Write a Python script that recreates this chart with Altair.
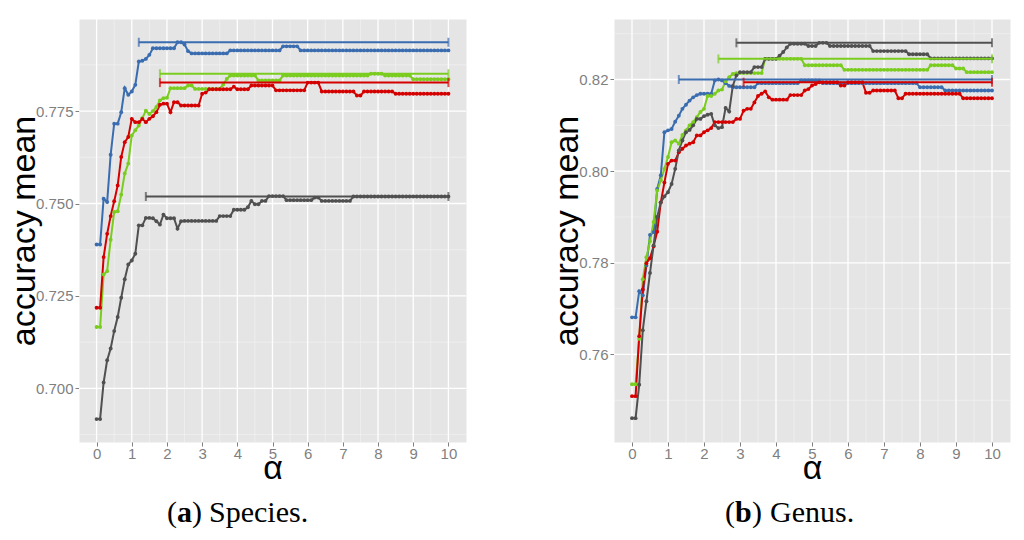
import altair as alt
import pandas as pd

# alpha grid, 0 to 10 in steps of 0.1
ALPHA = [round(i * 0.1, 1) for i in range(101)]

SERIES = ["blue", "green", "red", "grey"]
COLORS = ["#3A6CB0", "#7ACC1E", "#D40000", "#505050"]

# (a) Species
species_blue = [
    0.7389, 0.7389, 0.7513, 0.7504, 0.7632, 0.7716, 0.7716, 0.7747, 0.7812, 0.7794,
    0.7803, 0.7821, 0.7884, 0.7886, 0.7891, 0.7902, 0.7920, 0.7920, 0.7920, 0.7920,
    0.7920, 0.7920, 0.7920, 0.7936, 0.7936, 0.7930, 0.7912, 0.7906, 0.7906, 0.7906,
    0.7906, 0.7906, 0.7906, 0.7906, 0.7906, 0.7906, 0.7906, 0.7906, 0.7914, 0.7914,
    0.7914, 0.7914, 0.7914, 0.7914, 0.7914, 0.7914, 0.7914, 0.7914, 0.7914, 0.7914,
    0.7914, 0.7914, 0.7914, 0.7925, 0.7925, 0.7925, 0.7925, 0.7925, 0.7914, 0.7914,
    0.7914, 0.7914, 0.7914, 0.7914, 0.7914, 0.7914, 0.7914, 0.7914, 0.7914, 0.7914,
    0.7914, 0.7914, 0.7914, 0.7914, 0.7914, 0.7914, 0.7914, 0.7914, 0.7914, 0.7914,
    0.7914, 0.7914, 0.7914, 0.7914, 0.7914, 0.7914, 0.7914, 0.7914, 0.7914, 0.7914,
    0.7914, 0.7914, 0.7914, 0.7914, 0.7914, 0.7914, 0.7914, 0.7914, 0.7914, 0.7914,
    0.7914]
species_green = [
    0.7166, 0.7166, 0.7308, 0.7317, 0.7402, 0.7477, 0.7479, 0.7524, 0.7581, 0.7608,
    0.7684, 0.7698, 0.7711, 0.7731, 0.7751, 0.7742, 0.7750, 0.7761, 0.7779, 0.7785,
    0.7786, 0.7812, 0.7812, 0.7812, 0.7812, 0.7812, 0.7819, 0.7819, 0.7810, 0.7810,
    0.7810, 0.7810, 0.7810, 0.7810, 0.7810, 0.7810, 0.7822, 0.7837, 0.7846, 0.7846,
    0.7846, 0.7846, 0.7846, 0.7846, 0.7846, 0.7846, 0.7833, 0.7833, 0.7833, 0.7833,
    0.7833, 0.7833, 0.7833, 0.7846, 0.7846, 0.7846, 0.7846, 0.7846, 0.7846, 0.7846,
    0.7846, 0.7846, 0.7846, 0.7846, 0.7846, 0.7846, 0.7846, 0.7846, 0.7846, 0.7846,
    0.7846, 0.7846, 0.7846, 0.7846, 0.7846, 0.7846, 0.7846, 0.7846, 0.7851, 0.7851,
    0.7851, 0.7851, 0.7846, 0.7846, 0.7846, 0.7846, 0.7846, 0.7846, 0.7846, 0.7846,
    0.7836, 0.7836, 0.7836, 0.7836, 0.7836, 0.7836, 0.7836, 0.7836, 0.7836, 0.7836,
    0.7836]
species_red = [
    0.7218, 0.7218, 0.7355, 0.7418, 0.7466, 0.7506, 0.7549, 0.7626, 0.7666, 0.7680,
    0.7729, 0.7720, 0.7720, 0.7729, 0.7720, 0.7729, 0.7736, 0.7747, 0.7767, 0.7770,
    0.7770, 0.7747, 0.7774, 0.7774, 0.7765, 0.7765, 0.7765, 0.7765, 0.7765, 0.7765,
    0.7797, 0.7800, 0.7809, 0.7809, 0.7809, 0.7809, 0.7809, 0.7809, 0.7809, 0.7816,
    0.7809, 0.7809, 0.7809, 0.7809, 0.7819, 0.7819, 0.7819, 0.7819, 0.7819, 0.7819,
    0.7819, 0.7806, 0.7806, 0.7806, 0.7806, 0.7806, 0.7806, 0.7806, 0.7806, 0.7806,
    0.7827, 0.7827, 0.7827, 0.7827, 0.7803, 0.7803, 0.7803, 0.7803, 0.7803, 0.7803,
    0.7803, 0.7803, 0.7803, 0.7803, 0.7792, 0.7792, 0.7803, 0.7803, 0.7803, 0.7803,
    0.7803, 0.7803, 0.7803, 0.7803, 0.7803, 0.7797, 0.7797, 0.7797, 0.7797, 0.7797,
    0.7797, 0.7797, 0.7797, 0.7797, 0.7797, 0.7797, 0.7797, 0.7797, 0.7797, 0.7797,
    0.7797]
species_grey = [
    0.6917, 0.6917, 0.7016, 0.7076, 0.7108, 0.7155, 0.7193, 0.7245, 0.7295, 0.7335,
    0.7346, 0.7364, 0.7441, 0.7441, 0.7461, 0.7461, 0.7460, 0.7452, 0.7443, 0.7470,
    0.7460, 0.7460, 0.7460, 0.7432, 0.7452, 0.7453, 0.7453, 0.7453, 0.7453, 0.7453,
    0.7453, 0.7453, 0.7453, 0.7453, 0.7453, 0.7466, 0.7466, 0.7466, 0.7466, 0.7483,
    0.7483, 0.7483, 0.7483, 0.7490, 0.7507, 0.7498, 0.7498, 0.7507, 0.7507, 0.7520,
    0.7520, 0.7520, 0.7520, 0.7520, 0.7509, 0.7509, 0.7509, 0.7509, 0.7509, 0.7509,
    0.7509, 0.7509, 0.7516, 0.7516, 0.7507, 0.7507, 0.7507, 0.7507, 0.7507, 0.7507,
    0.7507, 0.7507, 0.7507, 0.7519, 0.7519, 0.7519, 0.7519, 0.7519, 0.7519, 0.7519,
    0.7519, 0.7519, 0.7519, 0.7519, 0.7519, 0.7519, 0.7519, 0.7519, 0.7519, 0.7519,
    0.7519, 0.7519, 0.7519, 0.7519, 0.7519, 0.7519, 0.7519, 0.7519, 0.7519, 0.7519,
    0.7519]

# (b) Genus
genus_blue = [
    0.7681, 0.7681, 0.7738, 0.7729, 0.7794, 0.7861, 0.7867, 0.7961, 0.7991, 0.8085,
    0.8089, 0.8092, 0.8108, 0.8121, 0.8136, 0.8145, 0.8154, 0.8161, 0.8166, 0.8169,
    0.8169, 0.8169, 0.8169, 0.8198, 0.8200, 0.8198, 0.8192, 0.8186, 0.8183, 0.8183,
    0.8183, 0.8183, 0.8183, 0.8183, 0.8183, 0.8192, 0.8192, 0.8192, 0.8192, 0.8192,
    0.8192, 0.8192, 0.8192, 0.8192, 0.8192, 0.8192, 0.8192, 0.8198, 0.8198, 0.8198,
    0.8198, 0.8198, 0.8198, 0.8192, 0.8192, 0.8192, 0.8192, 0.8192, 0.8192, 0.8192,
    0.8192, 0.8192, 0.8192, 0.8192, 0.8192, 0.8192, 0.8192, 0.8192, 0.8192, 0.8192,
    0.8192, 0.8192, 0.8192, 0.8192, 0.8192, 0.8192, 0.8192, 0.8192, 0.8192, 0.8192,
    0.8183, 0.8183, 0.8183, 0.8183, 0.8183, 0.8183, 0.8183, 0.8176, 0.8176, 0.8176,
    0.8176, 0.8176, 0.8176, 0.8176, 0.8176, 0.8176, 0.8176, 0.8176, 0.8176, 0.8176,
    0.8176]
genus_green = [
    0.7535, 0.7535, 0.7634, 0.7764, 0.7812, 0.7847, 0.7889, 0.7958, 0.7980, 0.8005,
    0.8031, 0.8063, 0.8067, 0.8060, 0.8079, 0.8089, 0.8100, 0.8107, 0.8118, 0.8129,
    0.8136, 0.8164, 0.8164, 0.8169, 0.8176, 0.8178, 0.8196, 0.8205, 0.8212, 0.8214,
    0.8214, 0.8214, 0.8214, 0.8214, 0.8214, 0.8214, 0.8214, 0.8245, 0.8245, 0.8245,
    0.8245, 0.8245, 0.8245, 0.8245, 0.8245, 0.8245, 0.8245, 0.8245, 0.8231, 0.8231,
    0.8231, 0.8231, 0.8231, 0.8231, 0.8231, 0.8231, 0.8231, 0.8231, 0.8231, 0.8221,
    0.8221, 0.8221, 0.8221, 0.8221, 0.8221, 0.8221, 0.8221, 0.8221, 0.8221, 0.8221,
    0.8221, 0.8221, 0.8221, 0.8221, 0.8221, 0.8221, 0.8221, 0.8221, 0.8221, 0.8221,
    0.8221, 0.8221, 0.8221, 0.8231, 0.8231, 0.8231, 0.8231, 0.8231, 0.8231, 0.8231,
    0.8224, 0.8224, 0.8224, 0.8216, 0.8216, 0.8216, 0.8216, 0.8216, 0.8216, 0.8216,
    0.8216]
genus_red = [
    0.7509, 0.7509, 0.7640, 0.7742, 0.7799, 0.7810, 0.7836, 0.7868, 0.7932, 0.7975,
    0.8016, 0.8023, 0.8023, 0.8041, 0.8049, 0.8056, 0.8060, 0.8063, 0.8078, 0.8078,
    0.8085, 0.8089, 0.8094, 0.8107, 0.8107, 0.8107, 0.8107, 0.8107, 0.8107, 0.8114,
    0.8114, 0.8132, 0.8136, 0.8136, 0.8150, 0.8164, 0.8169, 0.8174, 0.8161, 0.8156,
    0.8156, 0.8156, 0.8156, 0.8156, 0.8166, 0.8166, 0.8166, 0.8166, 0.8176, 0.8179,
    0.8187, 0.8190, 0.8194, 0.8194, 0.8194, 0.8194, 0.8194, 0.8194, 0.8187, 0.8187,
    0.8194, 0.8194, 0.8194, 0.8194, 0.8194, 0.8171, 0.8171, 0.8176, 0.8176, 0.8176,
    0.8176, 0.8176, 0.8176, 0.8176, 0.8159, 0.8159, 0.8169, 0.8169, 0.8169, 0.8169,
    0.8169, 0.8169, 0.8169, 0.8169, 0.8169, 0.8169, 0.8169, 0.8169, 0.8169, 0.8169,
    0.8169, 0.8169, 0.8159, 0.8159, 0.8159, 0.8159, 0.8159, 0.8159, 0.8159, 0.8159,
    0.8159]
genus_grey = [
    0.7461, 0.7461, 0.7534, 0.7653, 0.7716, 0.7778, 0.7838, 0.7900, 0.7932, 0.7945,
    0.7954, 0.7972, 0.8005, 0.8045, 0.8067, 0.8085, 0.8090, 0.8100, 0.8114, 0.8114,
    0.8120, 0.8123, 0.8125, 0.8100, 0.8094, 0.8096, 0.8138, 0.8130, 0.8186, 0.8209,
    0.8216, 0.8216, 0.8216, 0.8216, 0.8227, 0.8227, 0.8227, 0.8245, 0.8245, 0.8245,
    0.8245, 0.8252, 0.8260, 0.8270, 0.8278, 0.8278, 0.8278, 0.8278, 0.8278, 0.8273,
    0.8273, 0.8273, 0.8280, 0.8280, 0.8280, 0.8273, 0.8273, 0.8273, 0.8273, 0.8273,
    0.8273, 0.8273, 0.8273, 0.8273, 0.8273, 0.8273, 0.8273, 0.8262, 0.8262, 0.8262,
    0.8262, 0.8262, 0.8262, 0.8262, 0.8262, 0.8262, 0.8262, 0.8255, 0.8255, 0.8255,
    0.8255, 0.8255, 0.8255, 0.8246, 0.8246, 0.8246, 0.8246, 0.8246, 0.8246, 0.8246,
    0.8246, 0.8246, 0.8246, 0.8246, 0.8246, 0.8246, 0.8246, 0.8246, 0.8246, 0.8246,
    0.8246]

# horizontal range bars (start of range, level), one per series
species_bar_start = [1.2, 1.8, 1.8, 1.4]
species_bar_level = [0.7936, 0.7851, 0.7827, 0.7519]
genus_bar_start = [1.3, 2.4, 3.1, 2.9]
genus_bar_level = [0.8200, 0.8245, 0.8194, 0.8280]

species_ticks = [0.700, 0.725, 0.750, 0.775]
species_minor = [0.6875, 0.7125, 0.7375, 0.7625, 0.7875]
genus_ticks = [0.76, 0.78, 0.80, 0.82]
genus_minor = [0.75, 0.77, 0.79, 0.81, 0.83]
x_ticks = list(range(11))
x_minor = [0.5, 1.5, 2.5, 3.5, 4.5, 5.5, 6.5, 7.5, 8.5, 9.5]

FONT = "Liberation Sans"
SERIF = "Liberation Serif"
GREY = "#7F7F7F"


def panel(curves, bar_start, bar_level, y_domain, y_ticks, y_minor, y_fmt, width, height, caption):
    df = pd.concat([pd.DataFrame({"alpha": ALPHA, "acc": vals, "series": name})
                    for name, vals in zip(SERIES, curves)])
    bars = pd.DataFrame({"alpha": bar_start, "alpha_end": [10] * 4, "acc": bar_level, "series": SERIES})
    caps = pd.concat([bars[["alpha", "acc", "series"]],
                      bars[["alpha_end", "acc", "series"]].rename(columns={"alpha_end": "alpha"})])

    x_axis = alt.Axis(values=x_ticks, grid=False, domain=False, tickColor=GREY, tickSize=4,
                      labelColor=GREY, labelFont=FONT, labelFontSize=15, labelPadding=0,
                      title="α", titleFont=FONT, titleFontSize=34, titleFontWeight="normal",
                      titleColor="black", titleBaseline="alphabetic", titlePadding=17)
    y_axis = alt.Axis(values=y_ticks, format=y_fmt, grid=False, domain=False, tickColor=GREY, tickSize=4,
                      labelColor=GREY, labelFont=FONT, labelFontSize=15, labelPadding=2,
                      title="accuracy mean", titleFont=FONT, titleFontSize=34, titleFontWeight="normal",
                      titleColor="black", titleBaseline="alphabetic", titlePadding=1)
    x = alt.X("alpha:Q", scale=alt.Scale(domain=[-0.5, 10.5], nice=False, zero=False), axis=x_axis)
    y = alt.Y("acc:Q", scale=alt.Scale(domain=y_domain, nice=False, zero=False), axis=y_axis)
    color = alt.Color("series:N", scale=alt.Scale(domain=SERIES, range=COLORS), legend=None)

    minor_x = alt.Chart(pd.DataFrame({"alpha": x_minor})).mark_rule(color="#F2F2F2", strokeWidth=0.7).encode(x=x)
    minor_y = alt.Chart(pd.DataFrame({"acc": y_minor})).mark_rule(color="#F2F2F2", strokeWidth=0.7).encode(y=y)
    major_x = alt.Chart(pd.DataFrame({"alpha": x_ticks})).mark_rule(color="white", strokeWidth=1.3).encode(x=x)
    major_y = alt.Chart(pd.DataFrame({"acc": y_ticks})).mark_rule(color="white", strokeWidth=1.3).encode(y=y)

    lines = alt.Chart(df).mark_line(strokeWidth=2).encode(x=x, y=y, color=color)
    points = alt.Chart(df).mark_point(filled=True, size=15, opacity=1).encode(x=x, y=y, color=color)
    bar_rule = alt.Chart(bars).mark_rule(strokeWidth=2).encode(x=x, x2="alpha_end:Q", y=y, color=color)
    bar_caps = alt.Chart(caps).mark_tick(orient="vertical", size=9, thickness=2).encode(x=x, y=y, color=color)

    cap_layers = []
    for part in caption:
        cap_layers.append(
            alt.Chart(pd.DataFrame({"text": [part["text"]]})).mark_text(
                font=SERIF, fontSize=30, align="left", baseline="alphabetic", color="black",
                fontWeight=part["weight"]
            ).encode(x=alt.value(part["px"]), y=alt.value(height + 80), text="text:N")
        )

    return alt.layer(minor_x, minor_y, major_x, major_y, lines, points, bar_rule, bar_caps,
                     *cap_layers).properties(width=width, height=height)


species_caption = [
    {"text": "(", "weight": "normal", "px": 88},
    {"text": "a", "weight": "bold", "px": 98},
    {"text": ")", "weight": "normal", "px": 113},
    {"text": "Species.", "weight": "normal", "px": 130},
]
genus_caption = [
    {"text": "(", "weight": "normal", "px": 111},
    {"text": "b", "weight": "bold", "px": 121},
    {"text": ")", "weight": "normal", "px": 138},
    {"text": "Genus.", "weight": "normal", "px": 156},
]

left = panel([species_blue, species_green, species_red, species_grey],
             species_bar_start, species_bar_level, [0.6855, 0.7999],
             species_ticks, species_minor, ".3f", 387, 423, species_caption)
right = panel([genus_blue, genus_green, genus_red, genus_grey],
              genus_bar_start, genus_bar_level, [0.7409, 0.8332],
              genus_ticks, genus_minor, ".2f", 396, 423, genus_caption)

chart = alt.hconcat(left, right, spacing=82).properties(
    padding={"left": -2, "top": 9, "right": 0, "bottom": 0}
).configure_view(fill="#E5E5E5", stroke="transparent")

chart.save("out.html", embed_options={"renderer": "svg", "actions": False})
